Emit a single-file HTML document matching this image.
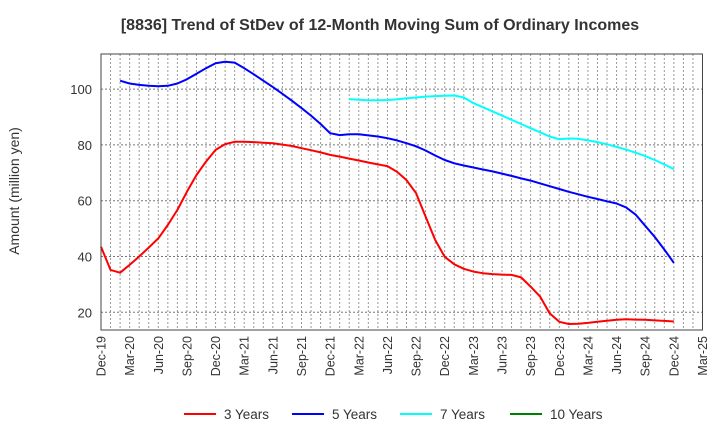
<!DOCTYPE html>
<html><head><meta charset="utf-8"><style>
body{margin:0;background:#fff;font-family:"Liberation Sans",Arial,sans-serif}
</style></head><body>
<svg id="chart" width="720" height="440" xmlns="http://www.w3.org/2000/svg" font-family="Liberation Sans, Arial, sans-serif">
<text x="380" y="30" text-anchor="middle" font-size="16" font-weight="bold" fill="#333">[8836]  Trend of StDev of 12-Month Moving Sum of Ordinary Incomes</text>
<text transform="translate(19,191) rotate(-90)" text-anchor="middle" font-size="14" fill="#333">Amount (million yen)</text>
<g id="grid"></g>
<g id="series"></g>
<rect x="101" y="54" width="601.5" height="276" fill="none" stroke="#444" stroke-width="1"/>
<g id="axes"></g>
<g id="legend"></g>
</svg>
<script>
const xTickLabels=["Dec-19","Mar-20","Jun-20","Sep-20","Dec-20","Mar-21","Jun-21","Sep-21","Dec-21","Mar-22","Jun-22","Sep-22","Dec-22","Mar-23","Jun-23","Sep-23","Dec-23","Mar-24","Jun-24","Sep-24","Dec-24","Mar-25"];
const yTicks=[20,40,60,80,100];
const seriesNames=["3 Years","5 Years","7 Years","10 Years"];
const seriesColors=["#ff0000","#0000ff","#00ffff","#008000"];
const red=[43.5,35.2,34.2,37,40,43.2,46.5,51.3,56.7,63.2,69.2,74,78.2,80.3,81.1,81.1,81,80.8,80.6,80.1,79.6,78.8,78.1,77.3,76.4,75.8,75.1,74.4,73.7,73,72.4,70.4,67.4,62.7,54.3,45.9,39.9,37.2,35.6,34.6,34,33.7,33.5,33.4,32.5,29.2,25.6,19.6,16.6,15.8,15.9,16.2,16.6,17,17.3,17.5,17.4,17.3,17.1,16.9,16.7];
const blue=[null,null,103,102,101.5,101.2,101,101.2,102,103.5,105.5,107.5,109.3,109.8,109.5,107.5,105.3,103,100.7,98.3,95.8,93.2,90.5,87.5,84.2,83.5,83.8,83.8,83.4,83,82.4,81.6,80.6,79.5,78,76.2,74.6,73.4,72.6,71.9,71.2,70.5,69.7,68.9,68,67.2,66.2,65.2,64.2,63.2,62.3,61.4,60.6,59.8,59,57.6,55,51,47,42.5,37.7];
const cyan=[null,null,null,null,null,null,null,null,null,null,null,null,null,null,null,null,null,null,null,null,null,null,null,null,null,null,96.4,96.2,96,96,96.1,96.3,96.7,97,97.3,97.5,97.6,97.7,97,95,93.5,92,90.5,89,87.5,86,84.5,83,82,82.3,82.2,81.6,81,80.2,79.3,78.3,77.2,76,74.6,73,71.3];
const green=[];
const NS="http://www.w3.org/2000/svg";
const x0=101,x1=702.5,yTop=54,yBot=330;
const monthsTotal=63;
function xs(m){return x0+(x1-x0)*m/monthsTotal;}
function ys(v){return 312.3-(v-20)*2.79;}
function mk(tag,attrs,parent){const e=document.createElementNS(NS,tag);for(const k in attrs)e.setAttribute(k,attrs[k]);parent.appendChild(e);return e;}
const grid=document.getElementById('grid'),axes=document.getElementById('axes'),ser=document.getElementById('series'),leg=document.getElementById('legend');
for(let m=1;m<monthsTotal;m++){
  const l=mk('line',{x1:xs(m),x2:xs(m),y1:yTop,y2:yBot,stroke:'#999','stroke-width':1,'stroke-dasharray':'2,2'},grid);
  
  
}
yTicks.forEach(v=>{
  const l=mk('line',{x1:x0,x2:x1,y1:ys(v),y2:ys(v),stroke:'#777','stroke-width':1,'stroke-dasharray':'2,2'},grid);
  
  
  const t=mk('text',{x:92,y:ys(v)+5,'text-anchor':'end','font-size':13,fill:'#333'},axes);
  t.textContent=v;
  
  
});
xTickLabels.forEach((s,i)=>{
  const x=xs(i*3);
  const t=mk('text',{transform:`translate(${x+4.5},336) rotate(-90)`,'text-anchor':'end','font-size':12.5,fill:'#333'},axes);
  t.textContent=s;
  
  
});
[red,blue,cyan,green].forEach((arr,si)=>{
  let d='';let pen=false;
  arr.forEach((v,m)=>{if(v==null){pen=false;return;}d+=(pen?'L':'M')+xs(m).toFixed(1)+','+ys(v).toFixed(1);pen=true;});
  if(!d)return;
  const p=mk('path',{d:d,fill:'none',stroke:seriesColors[si],'stroke-width':2,'stroke-linejoin':'round'},ser);
  
  
});
const legX=[184,292,400,510];
seriesNames.forEach((n,i)=>{
  const g=mk('g',{},leg);
  
  
  mk('line',{x1:legX[i],x2:legX[i]+32,y1:414,y2:414,stroke:seriesColors[i],'stroke-width':2},g);
  const t=mk('text',{x:legX[i]+40,y:419,'font-size':13.5,fill:'#333'},g);
  t.textContent=n;
});
</script>
</body></html>
